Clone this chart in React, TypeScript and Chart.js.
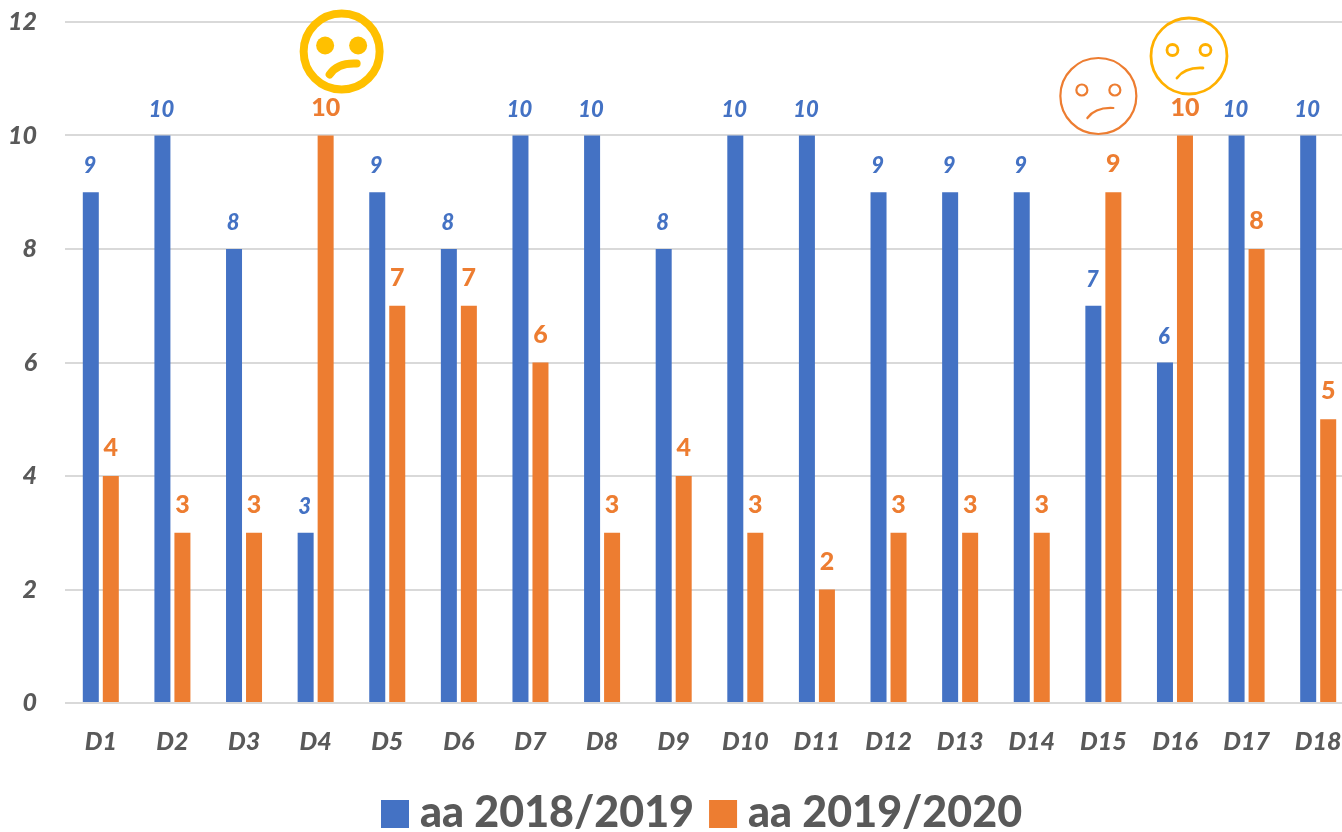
import React, { useEffect, useRef } from "react";
import { Chart, registerables } from "chart.js";

Chart.register(...registerables);

const categories = ["D1","D2","D3","D4","D5","D6","D7","D8","D9","D10","D11","D12","D13","D14","D15","D16","D17","D18"];
const series2018 = [9,10,8,3,9,8,10,10,8,10,10,9,9,9,7,6,10,10];
const series2019 = [4,3,3,10,7,7,6,3,4,3,2,3,3,3,9,10,8,5];
const yTicks = [0,2,4,6,8,10,12];

const BLUE = "#4472C4";
const ORANGE = "#ED7D31";
const GREY = "#595959";
const FONT = "Lato, Carlito, sans-serif";

const faces = [
  { category: "D4", value: 10, dx: 26, dy: -84, color: "#FFC000", line: 8, filledEyes: true, eyeR: 9, mouth: [-12, 23, 15, 12] },
  { category: "D15", value: 10, dx: -5, dy: -39.5, color: "#ED7D31", line: 2.2, filledEyes: false, eyeR: 5.5, mouth: [-11, 22, 15, 12] },
  { category: "D16", value: 10, dx: 14, dy: -79.5, color: "#FFB000", line: 2.8, filledEyes: false, eyeR: 5.5, mouth: [-12, 22, 14, 12] },
];

const labelPlugin = {
  id: "valueLabels",
  afterDatasetsDraw(chart: any) {
    const ctx = chart.ctx;
    ctx.save();
    ctx.textAlign = "center";
    ctx.textBaseline = "middle";
    chart.getDatasetMeta(0).data.forEach((bar: any, i: number) => {
      ctx.font = `italic 900 22px ${FONT}`;
      ctx.fillStyle = BLUE;
      ctx.fillText(String(series2018[i]), bar.x - 1, bar.y - 26);
    });
    chart.getDatasetMeta(1).data.forEach((bar: any, i: number) => {
      ctx.font = `900 25px ${FONT}`;
      ctx.fillStyle = ORANGE;
      ctx.fillText(String(series2019[i]), bar.x + 0, bar.y - 28);
    });
    ctx.restore();
  },
};

const legendPlugin = {
  id: "bottomLegend",
  afterDraw(chart: any) {
    const ctx = chart.ctx;
    ctx.save();
    ctx.font = `900 43px ${FONT}`;
    ctx.textBaseline = "middle";
    let cursor = 381;
    chart.data.datasets.forEach((ds: any) => {
      ctx.fillStyle = ds.backgroundColor;
      ctx.fillRect(cursor, 800, 28, 28);
      cursor += 28 + 11;
      ctx.fillStyle = GREY;
      ctx.fillText(ds.label, cursor, 813);
      cursor += ctx.measureText(ds.label).width + 15;
    });
    ctx.restore();
  },
};

const facePlugin = {
  id: "faces",
  afterDraw(chart: any) {
    const ctx = chart.ctx;
    const { x, y } = chart.scales;
    ctx.save();
    ctx.lineCap = "round";
    for (const f of faces) {
      const cx = x.getPixelForValue(categories.indexOf(f.category)) + f.dx;
      const cy = y.getPixelForValue(f.value) + f.dy;
      ctx.strokeStyle = f.color;
      ctx.fillStyle = f.color;
      ctx.lineWidth = f.line;
      ctx.beginPath();
      ctx.arc(cx, cy, 38, 0, Math.PI * 2);
      ctx.stroke();
      for (const side of [-1, 1]) {
        ctx.beginPath();
        ctx.arc(cx + side * 16.5, cy - 6, f.eyeR, 0, Math.PI * 2);
        if (f.filledEyes) ctx.fill();
        else ctx.stroke();
      }
      const [x0, y0, x1, y1] = f.mouth;
      ctx.beginPath();
      ctx.moveTo(cx + x0, cy + y0);
      ctx.quadraticCurveTo(cx + x0 + 8, cy + y1 - 1, cx + x1, cy + y1);
      ctx.stroke();
    }
    ctx.restore();
  },
};

export default function App() {
  const ref = useRef<HTMLCanvasElement>(null);
  useEffect(() => {
    const chart = new Chart(ref.current!, {
      type: "bar",
      data: {
        labels: categories,
        datasets: [
          { label: "aa 2018/2019", data: series2018, backgroundColor: BLUE },
          { label: "aa 2019/2020", data: series2019, backgroundColor: ORANGE },
        ],
      },
      options: {
        responsive: false,
        animation: false,
        devicePixelRatio: 1,
        layout: { padding: { top: 22, right: 6, bottom: 0, left: 0 } },
        datasets: { bar: { categoryPercentage: 0.5587, barPercentage: 0.8 } },
        plugins: {
          tooltip: { enabled: false },
          legend: { display: false },
        },
        scales: {
          x: {
            grid: { display: false },
            border: { display: false },
            afterFit: (s: any) => { s.height = 129; },
            ticks: {
              color: GREY,
              padding: 16,
              maxRotation: 0,
              autoSkip: false,
              font: { family: FONT, size: 25, style: "italic", weight: "900" },
            },
          },
          y: {
            min: 0,
            max: 12,
            afterFit: (s: any) => { s.width = 65; s.paddingTop = 0; s.paddingBottom = 0; },
            afterBuildTicks: (s: any) => { s.ticks = yTicks.map((value) => ({ value })); },
            grid: { color: "#D9D9D9", lineWidth: 2, drawTicks: false },
            border: { display: false },
            ticks: {
              color: GREY,
              padding: 28,
              font: { family: FONT, size: 25, style: "italic", weight: "900" },
            },
          },
        },
      },
      plugins: [labelPlugin, legendPlugin, facePlugin],
    } as any);
    return () => chart.destroy();
  }, []);
  return (
    <div style={{ position: "fixed", left: 0, top: 0, width: 1342, height: 832, overflow: "hidden", background: "#fff" }}>
      <canvas ref={ref} width={1360} height={832} style={{ display: "block" }} />
    </div>
  );
}
